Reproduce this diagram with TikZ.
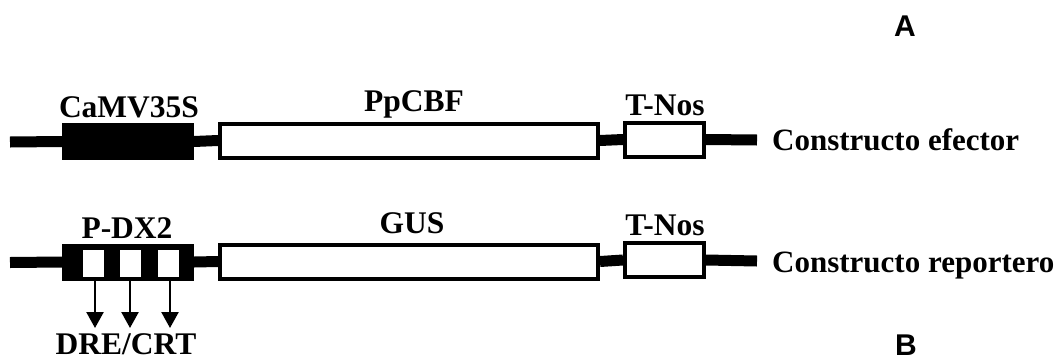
\documentclass[tikz,border=0pt]{standalone}
\usepackage{fontspec}
\setmainfont{Liberation Serif}
\newfontfamily\panelfont{Liberation Sans}
\usetikzlibrary{arrows.meta}
\tikzset{
  lbl/.style={font=\fontsize{31.5}{31.5}\selectfont\bfseries, anchor=base, inner sep=0},
  side/.style={font=\fontsize{31}{31}\selectfont\bfseries, anchor=base west, inner sep=0},
  panel/.style={font=\fontsize{30}{30}\selectfont\panelfont\bfseries, anchor=base, inner sep=0},
  gbox/.style={draw=black, line width=4, fill=white, inner sep=0, minimum height=34},
  blk/.style={draw=black, line width=2, fill=black, inner sep=0, minimum height=35},
  win/.style={fill=white, inner sep=0, minimum width=21, minimum height=27},
  backbone/.style={line width=11, black},
  arr/.style={line width=2.4, -{Triangle[width=17,length=16]}}
}
\begin{document}
\begin{tikzpicture}[x=1pt,y=-1pt]
\useasboundingbox (0,0) rectangle (1064,362);
% Row 1
\coordinate (s1) at (10,142);
\coordinate (e1) at (757,140);
\node[blk, minimum width=130] (cam) at (128,141.5) {};
\node[gbox, minimum width=378] (pp) at (409,140.5) {};
\node[gbox, minimum width=79] (tn1) at (664.5,139.5) {};
\draw[backbone] (s1) -- (cam.west);
\draw[backbone] (cam.east) -- (pp.west);
\draw[backbone] (pp.east) -- (tn1.west);
\draw[backbone] (tn1.east) -- (e1);
\node[lbl] (lcam) at (129,117) {CaMV35S};
\node[lbl] (lpp) at (414,111) {PpCBF};
\node[lbl] (ltn1) at (665,115) {T-Nos};
\node[side] (ef) at (772,150) {Constructo efector};
% Row 2
\coordinate (s2) at (10,262.5);
\coordinate (e2) at (757,261);
\node[blk, minimum width=130] (pdx) at (128,262) {};
\node[win] (w1) at (93,263.5) {};
\node[win] (w2) at (130,263.5) {};
\node[win] (w3) at (168,263.5) {};
\node[gbox, minimum width=378] (gus) at (409,261.5) {};
\node[gbox, minimum width=79] (tn2) at (664.5,260) {};
\draw[backbone] (s2) -- (pdx.west);
\draw[backbone] (pdx.east) -- (gus.west);
\draw[backbone] (gus.east) -- (tn2.west);
\draw[backbone] (tn2.east) -- (e2);
\node[lbl] (lpdx) at (127,238) {P-DX2};
\node[lbl] (lgus) at (412,233) {GUS};
\node[lbl] (ltn2) at (665,235) {T-Nos};
\node[side] (rep) at (772,272) {Constructo reportero};
% DRE/CRT arrows
\coordinate (a1) at (95,328);
\coordinate (a2) at (130,328);
\coordinate (a3) at (170,328);
\draw[arr] (a1 |- pdx.south) -- (a1);
\draw[arr] (a2 |- pdx.south) -- (a2);
\draw[arr] (a3 |- pdx.south) -- (a3);
\node[lbl] (dre) at (126,354) {DRE/CRT};
% Panel letters
\node[panel] (pa) at (905,36) {A};
\node[panel] (pb) at (906,355) {B};
\end{tikzpicture}
\end{document}
